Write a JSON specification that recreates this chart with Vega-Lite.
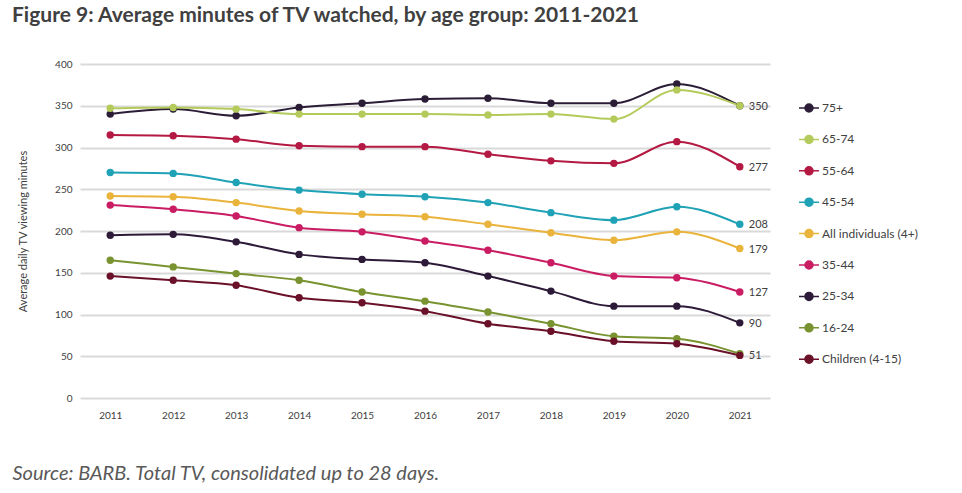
{
"$schema": "https://vega.github.io/schema/vega-lite/v6.json",
"width": 690,
"height": 334,
"autosize": {"type": "none"},
"padding": {"left": 80, "top": 64, "right": 192, "bottom": 95},
"background": "white",
"config": {"view": {"stroke": null}, "font": "Lato"},
"title": {"text": "Figure 9: Average minutes of TV watched, by age group: 2011-2021", "anchor": "start", "frame": "group", "dx": -68, "offset": 33, "fontSize": 21, "fontWeight": "bold", "color": "#404040", "font": "Lato"},
"data": {"values": [
{"g":"75+","year":2011,"v":340},{"g":"75+","year":2012,"v":346},{"g":"75+","year":2013,"v":338},{"g":"75+","year":2014,"v":348},{"g":"75+","year":2015,"v":353},{"g":"75+","year":2016,"v":358},{"g":"75+","year":2017,"v":359},{"g":"75+","year":2018,"v":353},{"g":"75+","year":2019,"v":353},{"g":"75+","year":2020,"v":376},{"g":"75+","year":2021,"v":350},
{"g":"65-74","year":2011,"v":347},{"g":"65-74","year":2012,"v":348},{"g":"65-74","year":2013,"v":346},{"g":"65-74","year":2014,"v":340},{"g":"65-74","year":2015,"v":340},{"g":"65-74","year":2016,"v":340},{"g":"65-74","year":2017,"v":339},{"g":"65-74","year":2018,"v":340},{"g":"65-74","year":2019,"v":334},{"g":"65-74","year":2020,"v":369},{"g":"65-74","year":2021,"v":350},
{"g":"55-64","year":2011,"v":315},{"g":"55-64","year":2012,"v":314},{"g":"55-64","year":2013,"v":310},{"g":"55-64","year":2014,"v":302},{"g":"55-64","year":2015,"v":301},{"g":"55-64","year":2016,"v":301},{"g":"55-64","year":2017,"v":292},{"g":"55-64","year":2018,"v":284},{"g":"55-64","year":2019,"v":281},{"g":"55-64","year":2020,"v":307},{"g":"55-64","year":2021,"v":277},
{"g":"45-54","year":2011,"v":270},{"g":"45-54","year":2012,"v":269},{"g":"45-54","year":2013,"v":258},{"g":"45-54","year":2014,"v":249},{"g":"45-54","year":2015,"v":244},{"g":"45-54","year":2016,"v":241},{"g":"45-54","year":2017,"v":234},{"g":"45-54","year":2018,"v":222},{"g":"45-54","year":2019,"v":213},{"g":"45-54","year":2020,"v":229},{"g":"45-54","year":2021,"v":208},
{"g":"All individuals (4+)","year":2011,"v":242},{"g":"All individuals (4+)","year":2012,"v":241},{"g":"All individuals (4+)","year":2013,"v":234},{"g":"All individuals (4+)","year":2014,"v":224},{"g":"All individuals (4+)","year":2015,"v":220},{"g":"All individuals (4+)","year":2016,"v":217},{"g":"All individuals (4+)","year":2017,"v":208},{"g":"All individuals (4+)","year":2018,"v":198},{"g":"All individuals (4+)","year":2019,"v":189},{"g":"All individuals (4+)","year":2020,"v":199},{"g":"All individuals (4+)","year":2021,"v":179},
{"g":"35-44","year":2011,"v":231},{"g":"35-44","year":2012,"v":226},{"g":"35-44","year":2013,"v":218},{"g":"35-44","year":2014,"v":204},{"g":"35-44","year":2015,"v":199},{"g":"35-44","year":2016,"v":188},{"g":"35-44","year":2017,"v":177},{"g":"35-44","year":2018,"v":162},{"g":"35-44","year":2019,"v":146},{"g":"35-44","year":2020,"v":144},{"g":"35-44","year":2021,"v":127},
{"g":"25-34","year":2011,"v":195},{"g":"25-34","year":2012,"v":196},{"g":"25-34","year":2013,"v":187},{"g":"25-34","year":2014,"v":172},{"g":"25-34","year":2015,"v":166},{"g":"25-34","year":2016,"v":162},{"g":"25-34","year":2017,"v":146},{"g":"25-34","year":2018,"v":128},{"g":"25-34","year":2019,"v":110},{"g":"25-34","year":2020,"v":110},{"g":"25-34","year":2021,"v":90},
{"g":"16-24","year":2011,"v":165},{"g":"16-24","year":2012,"v":157},{"g":"16-24","year":2013,"v":149},{"g":"16-24","year":2014,"v":141},{"g":"16-24","year":2015,"v":127},{"g":"16-24","year":2016,"v":116},{"g":"16-24","year":2017,"v":103},{"g":"16-24","year":2018,"v":89},{"g":"16-24","year":2019,"v":74},{"g":"16-24","year":2020,"v":71},{"g":"16-24","year":2021,"v":53},
{"g":"Children (4-15)","year":2011,"v":146},{"g":"Children (4-15)","year":2012,"v":141},{"g":"Children (4-15)","year":2013,"v":135},{"g":"Children (4-15)","year":2014,"v":120},{"g":"Children (4-15)","year":2015,"v":114},{"g":"Children (4-15)","year":2016,"v":104},{"g":"Children (4-15)","year":2017,"v":89},{"g":"Children (4-15)","year":2018,"v":80},{"g":"Children (4-15)","year":2019,"v":68},{"g":"Children (4-15)","year":2020,"v":65},{"g":"Children (4-15)","year":2021,"v":51}
]},
"encoding": {
  "x": {"field": "year", "type": "ordinal", "scale": {"type": "point", "padding": 0.48},
        "axis": {"labelAngle": 0, "ticks": false, "domain": false, "grid": false, "labelFontSize": 10, "labelColor": "#404040", "labelPadding": 12,
                 "title": "Source: BARB. Total TV, consolidated up to 28 days.", "titleFontStyle": "italic", "titleFontWeight": "normal", "titleFontSize": 20, "titleColor": "#595959", "titleAnchor": "start", "titleAlign": "left", "titleX": -68, "titleY": 75, "titleBaseline": "middle"}},
  "y": {"field": "v", "type": "quantitative", "scale": {"domain": [0, 400], "nice": false},
        "axis": {"values": [0,50,100,150,200,250,300,350,400], "ticks": false, "domain": false, "gridColor": "#d9d9d9", "gridWidth": 2, "labelFontSize": 10, "labelColor": "#404040", "labelPadding": 8,
                 "title": "Average daily TV viewing minutes", "titleFontSize": 11, "titleFontWeight": "normal", "titleColor": "#404040", "titlePadding": 26}}
},
"layer": [
  {"mark": {"type": "line", "interpolate": "monotone", "strokeWidth": 2},
   "encoding": {"color": {"field": "g", "type": "nominal",
      "scale": {"domain": ["75+","65-74","55-64","45-54","All individuals (4+)","35-44","25-34","16-24","Children (4-15)"],
                "range": ["#2b1d36","#b4cb5b","#b31942","#1fa2b6","#eab43c","#c91c63","#2d1a38","#789330","#6a1029"]},
      "legend": {"orient": "none", "legendX": 718, "legendY": 33, "title": null, "padding": 0,
                 "symbolType": "M-1,0L1,0M-0.4,0A0.4,0.4,0,1,1,0.4,0A0.4,0.4,0,1,1,-0.4,0Z", "symbolSize": 400, "symbolStrokeWidth": 1.5,
                 "labelFontSize": 12, "labelColor": "#404040", "rowPadding": 13.4, "labelOffset": 2,
                 "encode": {"symbols": {"update": {"fill": {"scale": "color", "field": "value"}, "stroke": {"scale": "color", "field": "value"}, "opacity": {"value": 1}}}}}}}},
  {"mark": {"type": "point", "filled": true, "size": 55, "opacity": 1},
   "encoding": {"color": {"field": "g", "type": "nominal", "legend": null}}},
  {"transform": [{"filter": {"and": [{"field": "year", "equal": 2021}, {"not": {"field": "g", "oneOf": ["65-74", "16-24"]}}]}}],
   "mark": {"type": "text", "align": "left", "baseline": "middle", "dx": 9, "dy": 1, "fontSize": 11, "color": "#404040"},
   "encoding": {"text": {"field": "v", "type": "quantitative"}}}
]
}
